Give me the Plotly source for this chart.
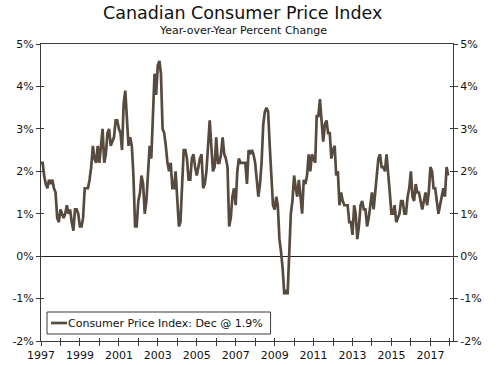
import plotly.graph_objects as go
import pandas as pd

# Canadian CPI, year-over-year percent change, monthly Jan 1997 - Dec 2017
cpi_1997 = [2.2, 2.2, 1.9, 1.7, 1.6, 1.8, 1.7, 1.8, 1.6, 1.5, 0.9, 0.8]
cpi_1998 = [1.1, 1.0, 0.9, 1.0, 1.2, 1.0, 1.1, 0.8, 0.6, 1.1, 1.1, 1.0]
cpi_1999 = [0.7, 0.7, 0.9, 1.6, 1.6, 1.6, 1.8, 2.1, 2.6, 2.3, 2.2, 2.6]
cpi_2000 = [2.2, 2.7, 3.0, 2.2, 2.4, 2.9, 3.0, 2.6, 2.7, 2.8, 3.2, 3.2]
cpi_2001 = [3.0, 2.9, 2.5, 3.6, 3.9, 3.3, 2.6, 2.8, 2.6, 1.9, 0.7, 0.7]
cpi_2002 = [1.3, 1.5, 1.9, 1.7, 1.0, 1.3, 2.1, 2.6, 2.3, 3.2, 4.3, 3.8]
cpi_2003 = [4.5, 4.6, 4.3, 3.0, 2.9, 2.6, 2.2, 2.0, 2.2, 1.6, 1.6, 2.0]
cpi_2004 = [1.3, 0.7, 0.8, 1.7, 2.5, 2.5, 2.3, 1.8, 1.8, 2.3, 2.4, 2.1]
cpi_2005 = [1.9, 2.1, 2.3, 2.4, 1.6, 1.7, 2.0, 2.6, 3.2, 2.6, 2.0, 2.1]
cpi_2006 = [2.8, 2.2, 2.2, 2.4, 2.8, 2.4, 2.3, 2.1, 0.7, 0.9, 1.4, 1.6]
cpi_2007 = [1.2, 2.0, 2.3, 2.2, 2.2, 2.2, 2.2, 1.7, 2.5, 2.4, 2.5, 2.4]
cpi_2008 = [2.2, 1.8, 1.4, 1.7, 2.2, 3.1, 3.4, 3.5, 3.4, 2.6, 2.0, 1.2]
cpi_2009 = [1.1, 1.4, 1.2, 0.4, 0.1, -0.3, -0.9, -0.8, -0.9, 0.1, 1.0, 1.3]
cpi_2010 = [1.9, 1.6, 1.4, 1.8, 1.4, 1.0, 1.8, 1.7, 1.9, 2.4, 2.0, 2.4]
cpi_2011 = [2.3, 2.2, 3.3, 3.3, 3.7, 3.1, 2.7, 3.1, 3.2, 2.9, 2.9, 2.3]
cpi_2012 = [2.5, 2.6, 1.9, 2.0, 1.2, 1.5, 1.3, 1.2, 1.2, 1.2, 0.8, 0.8]
cpi_2013 = [0.5, 1.2, 1.0, 0.4, 0.7, 1.2, 1.3, 1.1, 1.1, 0.7, 0.9, 1.2]
cpi_2014 = [1.5, 1.1, 1.5, 2.0, 2.3, 2.4, 2.1, 2.1, 2.0, 2.4, 2.0, 1.5]
cpi_2015 = [1.0, 1.0, 1.2, 0.8, 0.9, 1.0, 1.3, 1.3, 1.0, 1.0, 1.4, 1.6]
cpi_2016 = [2.0, 1.4, 1.3, 1.7, 1.5, 1.5, 1.3, 1.1, 1.3, 1.5, 1.2, 1.5]
cpi_2017 = [2.1, 2.0, 1.6, 1.6, 1.3, 1.0, 1.2, 1.4, 1.6, 1.4, 2.1, 1.9]

cpi_values = (cpi_1997 + cpi_1998 + cpi_1999 + cpi_2000 + cpi_2001 + cpi_2002 +
              cpi_2003 + cpi_2004 + cpi_2005 + cpi_2006 + cpi_2007 + cpi_2008 +
              cpi_2009 + cpi_2010 + cpi_2011 + cpi_2012 + cpi_2013 + cpi_2014 +
              cpi_2015 + cpi_2016 + cpi_2017)
months = pd.date_range("1997-01-01", periods=len(cpi_values), freq="MS")

series_name = "Consumer Price Index: Dec @ 1.9%"
title_text = "Canadian Consumer Price Index"
subtitle_text = "Year-over-Year Percent Change"
y_ticks = [-2, -1, 0, 1, 2, 3, 4, 5]
y_tick_labels = ["-2%", "-1%", "0%", "1%", "2%", "3%", "4%", "5%"]

LINE_COLOR = "#574a3e"
AXIS_COLOR = "#3a3a3a"
FONT = "DejaVu Sans"

fig = go.Figure()
fig.add_trace(go.Scatter(
    x=months, y=cpi_values, mode="lines", name=series_name,
    line=dict(color=LINE_COLOR, width=2.7), showlegend=False,
))
# helper traces so the overlay axes (for inward ticks / right labels) are drawn
for xa, ya in (("x2", "y"), ("x", "y2"), ("x", "y3")):
    fig.add_trace(go.Scatter(
        x=[months[0]], y=[None], xaxis=xa, yaxis=ya, mode="lines",
        showlegend=False, hoverinfo="skip",
    ))

x_range = ["1997-01-01", "2018-03-01"]
y_range = [-2, 5]
tick_font = dict(family=FONT, size=11, color="#111111")

fig.update_layout(
    width=500, height=365,
    margin=dict(l=41, r=47, t=44, b=24, autoexpand=False),
    paper_bgcolor="white", plot_bgcolor="white",
    font=dict(family=FONT, size=11, color="#111111"),
    showlegend=False,
    xaxis=dict(
        type="date", range=x_range, showgrid=False, zeroline=False, automargin=False,
        showline=True, linecolor=AXIS_COLOR, linewidth=1, mirror=True,
        ticks="outside", ticklen=4, tickcolor=AXIS_COLOR, tickwidth=1,
        dtick="M24", tick0="1997-01-01", tickformat="%Y",
        tickfont=tick_font,
        minor=dict(dtick="M12", tick0="1997-01-01", ticks="outside",
                   ticklen=4, tickcolor=AXIS_COLOR, tickwidth=1),
    ),
    xaxis2=dict(
        type="date", overlaying="x", matches="x", range=x_range, automargin=False,
        showgrid=False, zeroline=False, showline=False,
        ticks="inside", ticklen=3, tickcolor=AXIS_COLOR, tickwidth=1,
        dtick="M24", tick0="1997-01-01", showticklabels=False,
        minor=dict(dtick="M12", tick0="1997-01-01", ticks="inside",
                   ticklen=3, tickcolor=AXIS_COLOR, tickwidth=1),
        anchor="y",
    ),
    yaxis=dict(
        range=y_range, tickmode="array", tickvals=y_ticks, ticktext=y_tick_labels,
        showgrid=False, zeroline=True, zerolinecolor="#222222", zerolinewidth=1,
        showline=True, linecolor=AXIS_COLOR, linewidth=1, automargin=False,
        ticks="outside", ticklen=4, tickcolor=AXIS_COLOR, tickwidth=1,
        tickfont=tick_font, side="left",
    ),
    yaxis2=dict(
        range=y_range, tickmode="array", tickvals=y_ticks, ticktext=y_tick_labels,
        overlaying="y", side="right", anchor="x", automargin=False,
        showgrid=False, zeroline=False,
        showline=True, linecolor=AXIS_COLOR, linewidth=1,
        ticks="outside", ticklen=4, tickcolor=AXIS_COLOR, tickwidth=1,
        tickfont=tick_font,
    ),
    yaxis3=dict(
        range=y_range, tickmode="array", tickvals=y_ticks, overlaying="y",
        showgrid=False, zeroline=False, showline=False, mirror="ticks",
        ticks="inside", ticklen=3, tickcolor=AXIS_COLOR, tickwidth=1,
        showticklabels=False, anchor="x", automargin=False,
    ),
)

# Title and subtitle
fig.add_annotation(text=title_text, xref="paper", yref="paper",
                   x=0.49, y=1.0, yshift=31, xanchor="center", yanchor="middle",
                   showarrow=False, font=dict(family=FONT, size=17.5, color="#111111"))
fig.add_annotation(text=subtitle_text, xref="paper", yref="paper",
                   x=0.49, y=1.0, yshift=14, xanchor="center", yanchor="middle",
                   showarrow=False, font=dict(family=FONT, size=11, color="#111111"))

# Legend box (drawn manually to match the compact sample line)
px_w, px_h = 411.0, 297.0
def px_x(px):
    return (px - 41) / px_w
def px_y(py):
    return (341 - py) / px_h

fig.add_shape(type="rect", xref="paper", yref="paper",
              x0=px_x(47), x1=px_x(270), y0=px_y(334), y1=px_y(312),
              line=dict(color=AXIS_COLOR, width=1), fillcolor="white", layer="above")
fig.add_shape(type="line", xref="paper", yref="paper",
              x0=px_x(51), x1=px_x(67), y0=px_y(323), y1=px_y(323),
              line=dict(color=LINE_COLOR, width=2.7), layer="above")
fig.add_annotation(text=series_name, xref="paper", yref="paper",
                   x=px_x(66), y=px_y(323), xanchor="left", yanchor="middle",
                   showarrow=False, font=dict(family=FONT, size=11, color="#111111"))

fig.write_html(
    "out.html",
    config={"displayModeBar": False},
    post_script="document.body.style.margin='0';document.body.style.overflow='hidden';",
)
